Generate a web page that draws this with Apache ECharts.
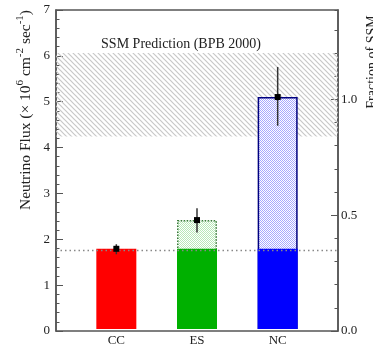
<!DOCTYPE html>
<html><head><meta charset="utf-8">
<script src="https://cdn.jsdelivr.net/npm/echarts@6/dist/echarts.min.js"></script>
<style>html,body{margin:0;padding:0;background:#fff}#c{width:373px;height:347px}</style>
</head><body><div id="c"></div>
<script>
// ---- data ----
const categories = ['CC', 'ES', 'NC'];
const fluxValues = [1.76, 2.39, 5.09];
const errPlus = [0.10, 0.26, 0.66];
const errMinus = [0.12, 0.27, 0.63];
const solidValues = [1.76, 1.76, 1.76];
const ccLevel = 1.76;
const ssmCentral = 5.05;
const ssmLow = 4.24;
const ssmHigh = 6.06;
const ssmLabel = 'SSM Prediction (BPB 2000)';
const fluxMax = 7;

// ---- patterns ----
function hatchPattern() {
  const s = 5, c = document.createElement('canvas');
  c.width = s; c.height = s;
  const g = c.getContext('2d');
  g.strokeStyle = '#c8c8c8'; g.lineWidth = 1.2;
  g.beginPath();
  g.moveTo(-1, -1); g.lineTo(s + 1, s + 1);
  g.moveTo(-1, s - 1); g.lineTo(1, s + 1);
  g.moveTo(s - 1, -1); g.lineTo(s + 1, 1);
  g.stroke();
  return { image: c, repeat: 'repeat' };
}
function checkerPattern(col) {
  const c = document.createElement('canvas');
  c.width = 2; c.height = 2;
  const g = c.getContext('2d');
  g.fillStyle = '#ffffff'; g.fillRect(0, 0, 2, 2);
  g.fillStyle = col; g.fillRect(0, 0, 1, 1); g.fillRect(1, 1, 1, 1);
  return { image: c, repeat: 'repeat' };
}

const FONT = 'Liberation Serif';
const AX = '#555';
const solidColors = ['#ff0000', '#00b000', '#0000ff'];
const hatchStyles = [
  { color: 'rgba(0,0,0,0)', borderWidth: 0 },
  { color: checkerPattern('#b8e8b8'), borderColor: '#3a7a3a', borderWidth: 1.5, borderType: 'dotted' },
  { color: checkerPattern('#a8a8ff'), borderColor: '#000080', borderWidth: 1.5 }
];

const chart = echarts.init(document.getElementById('c'), null, { renderer: 'canvas' });
const option = {
  animation: false,
  textStyle: { fontFamily: FONT },
  grid: [
    { left: 56, right: 35, top: 10, bottom: 16, show: true, borderColor: AX, borderWidth: 1.5, backgroundColor: 'transparent' },
    { left: 76, right: 55, top: 10, bottom: 16 }
  ],
  xAxis: [
    { type: 'value', gridIndex: 0, min: 0, max: 1, show: false },
    { type: 'category', gridIndex: 1, data: categories, boundaryGap: true,
      axisLine: { show: false }, axisTick: { show: false },
      axisLabel: { fontFamily: FONT, fontSize: 13, color: '#222', margin: 5 } }
  ],
  yAxis: [
    { type: 'value', gridIndex: 0, position: 'left', min: 0, max: fluxMax, interval: 1,
      axisLine: { show: true, lineStyle: { color: AX, width: 1.5 } },
      axisTick: { show: true, inside: true, length: 7, lineStyle: { color: AX, width: 1 } },
      minorTick: { show: true, splitNumber: 5, length: 3.5, lineStyle: { color: AX, width: 1 } },
      splitLine: { show: false },
      axisLabel: { fontFamily: FONT, fontSize: 13, color: '#222', margin: 6 } },
    { type: 'value', gridIndex: 0, position: 'right', min: 0, max: fluxMax / ssmCentral, interval: 0.5,
      axisLine: { show: true, lineStyle: { color: AX, width: 1.5 } },
      axisTick: { show: true, inside: true, length: 7, lineStyle: { color: AX, width: 1 } },
      splitLine: { show: false },
      axisLabel: { fontFamily: FONT, fontSize: 13, color: '#222', margin: 3, showMaxLabel: false,
        formatter: v => v.toFixed(1) } },
    { type: 'value', gridIndex: 0, position: 'right', min: 0, max: fluxMax / ssmCentral, interval: 0.1,
      axisLine: { show: false },
      axisTick: { show: true, inside: true, length: 3.5, lineStyle: { color: AX, width: 1 } },
      splitLine: { show: false }, axisLabel: { show: false } },
    { type: 'value', gridIndex: 1, min: 0, max: fluxMax, show: false }
  ],
  series: [
    { type: 'line', xAxisIndex: 0, yAxisIndex: 0, data: [], silent: true, z: 1,
      markArea: { silent: true,
        itemStyle: { color: hatchPattern() },
        label: { show: true, position: 'top', distance: 2, offset: [-16, 0],
          fontFamily: FONT, fontSize: 14, color: '#222', formatter: ssmLabel },
        data: [[{ yAxis: ssmLow, xAxis: 0 }, { yAxis: ssmHigh, xAxis: 1 }]] },
      markLine: { silent: true, symbol: 'none', label: { show: false },
        lineStyle: { color: '#888', type: [1.5, 3], width: 1.3 },
        data: [{ yAxis: ccLevel }] } },
    { type: 'bar', xAxisIndex: 1, yAxisIndex: 3, barWidth: 40, barGap: '-100%', z: 3,
      data: fluxValues.map((v, i) => ({ value: v, itemStyle: hatchStyles[i] })) },
    { type: 'bar', xAxisIndex: 1, yAxisIndex: 3, barWidth: 40, barGap: '-100%', z: 4,
      data: solidValues.map((v, i) => ({ value: v, itemStyle: { color: solidColors[i] } })) },
    { type: 'custom', xAxisIndex: 1, yAxisIndex: 3, z: 6,
      data: categories.map((c, i) => [i, fluxValues[i], fluxValues[i] - errMinus[i], fluxValues[i] + errPlus[i]]),
      renderItem: function (params, api) {
        const p = api.coord([api.value(0), api.value(1)]);
        const lo = api.coord([api.value(0), api.value(2)]);
        const hi = api.coord([api.value(0), api.value(3)]);
        return { type: 'group', children: [
          { type: 'line', shape: { x1: p[0], y1: lo[1], x2: p[0], y2: hi[1] },
            style: { stroke: '#333', lineWidth: 1.5 } },
          { type: 'rect', shape: { x: p[0] - 3, y: p[1] - 3, width: 6, height: 6 },
            style: { fill: '#000' } }
        ]};
      } }
  ],
  graphic: [
    { type: 'text', x: 26, y: 110, rotation: Math.PI / 2,
      style: { text: 'Neutrino Flux (× 10{sup|6} cm{sup|-2} sec{sup|-1})',
        align: 'center', verticalAlign: 'middle', fontFamily: FONT, fontSize: 15.5, fill: '#222',
        rich: { sup: { fontFamily: FONT, fontSize: 11, verticalAlign: 'top', lineHeight: 22, fill: '#222' } } } },
    { type: 'text', x: 372, y: 62, rotation: Math.PI / 2,
      style: { text: 'Fraction of SSM', align: 'center', verticalAlign: 'middle',
        fontFamily: FONT, fontSize: 14, fill: '#222' } }
  ]
};
chart.setOption(option);
</script></body></html>
